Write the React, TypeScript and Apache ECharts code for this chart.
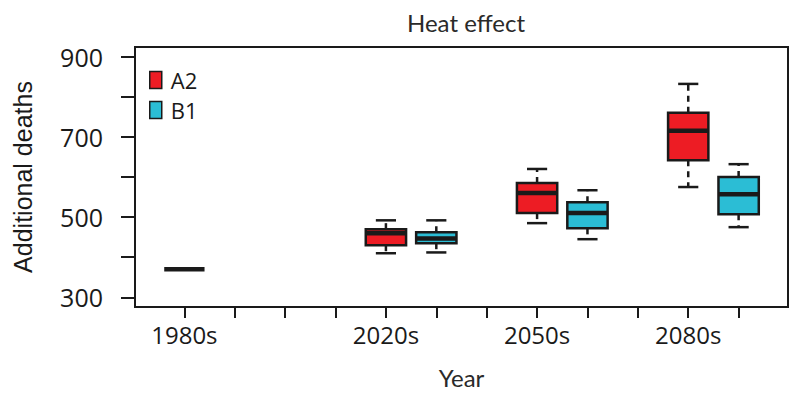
import React, { useEffect, useRef } from "react";
import * as echarts from "echarts";

// ---- data ----
const xTickPositions = [1, 2, 3, 4, 5, 6, 7, 8, 9, 10, 11, 12];
const xLabelPositions = [1, 5, 8, 11];
const xLabels = ["1980s", "2020s", "2050s", "2080s"];
const yTickValues = [300, 400, 500, 600, 700, 800, 900];
const yLabelValues = [300, 500, 700, 900];

// [position, min, q1, median, q3, max]
const baseline1980s = [[1, 370, 370, 370, 370, 370]];
const boxesA2 = [
  [5, 410, 430, 460, 470, 492],
  [8, 485, 510, 560, 585, 620],
  [11, 575, 642, 715, 760, 832],
];
const boxesB1 = [
  [6, 412, 435, 447, 462, 492],
  [9, 445, 472, 510, 537, 567],
  [12, 475, 507, 557, 600, 632],
];

const RED = "#ED1C24";
const CYAN = "#2BBDD5";
const INK = "#1a1a1a";

function makeRenderer(color: string) {
  return (params: any, api: any) => {
    const x = api.value(0);
    const vmin = api.value(1);
    const q1 = api.value(2);
    const med = api.value(3);
    const q3 = api.value(4);
    const vmax = api.value(5);
    const halfW = api.size([0.8, 0])[0] / 2;
    const capHalf = halfW / 2;
    const pMin = api.coord([x, vmin]);
    const pQ1 = api.coord([x, q1]);
    const pMed = api.coord([x, med]);
    const pQ3 = api.coord([x, q3]);
    const pMax = api.coord([x, vmax]);
    const cx = pMed[0];
    const children: any[] = [];
    const lineStyle = { stroke: INK, lineWidth: 2.5 };
    const dashStyle = { stroke: INK, lineWidth: 2.5, lineDash: [6, 5] };
    if (vmax > q3) {
      children.push({ type: "line", shape: { x1: cx, y1: pQ3[1], x2: cx, y2: pMax[1] }, style: dashStyle });
      children.push({ type: "line", shape: { x1: cx - capHalf, y1: pMax[1], x2: cx + capHalf, y2: pMax[1] }, style: lineStyle });
    }
    if (vmin < q1) {
      children.push({ type: "line", shape: { x1: cx, y1: pQ1[1], x2: cx, y2: pMin[1] }, style: dashStyle });
      children.push({ type: "line", shape: { x1: cx - capHalf, y1: pMin[1], x2: cx + capHalf, y2: pMin[1] }, style: lineStyle });
    }
    if (q3 > q1) {
      children.push({
        type: "rect",
        shape: { x: cx - halfW, y: pQ3[1], width: halfW * 2, height: pQ1[1] - pQ3[1] },
        style: { fill: color, stroke: INK, lineWidth: 2.5 },
      });
    }
    children.push({
      type: "line",
      shape: { x1: cx - halfW, y1: pMed[1], x2: cx + halfW, y2: pMed[1] },
      style: { stroke: INK, lineWidth: 4.5 },
    });
    return { type: "group", children };
  };
}

export default function App() {
  const ref = useRef<HTMLDivElement>(null);
  useEffect(() => {
    if (!ref.current) return;
    const chart = echarts.init(ref.current, undefined, { renderer: "svg" });
    const labelMap: Record<number, string> = {};
    xLabelPositions.forEach((p, i) => (labelMap[p] = xLabels[i]));
    chart.setOption({
      animation: false,
      backgroundColor: "#ffffff",
      title: {
        text: "Heat effect",
        left: 461,
        top: 5,
        textAlign: "center",
        textStyle: { fontFamily: "Lato", fontSize: 24, fontWeight: "normal", color: "#2a2a2a" },
      },
      legend: {
        data: ["A2", "B1"],
        orient: "vertical",
        left: 149,
        top: 69,
        padding: 0,
        icon: "rect",
        itemWidth: 12,
        itemHeight: 17,
        itemGap: 8,
        itemStyle: { borderColor: INK, borderWidth: 1.5 },
        textStyle: { fontFamily: "Open Sans", fontSize: 22, color: INK, padding: [0, 0, 0, 4], lineHeight: 17 },
      },
      grid: {
        left: 135,
        right: 12,
        top: 47,
        bottom: 93,
        show: true,
        borderColor: INK,
        borderWidth: 2,
        backgroundColor: "transparent",
        containLabel: false,
        outerBoundsMode: "none",
      },
      xAxis: {
        type: "value",
        min: 0.02,
        max: 12.98,
        name: "Year",
        nameLocation: "middle",
        nameGap: 58,
        nameTextStyle: { fontFamily: "Lato", fontSize: 24, color: "#2a2a2a" },
        axisLine: { show: false },
        splitLine: { show: false },
        axisTick: { show: true, length: 11, customValues: xTickPositions, lineStyle: { color: INK, width: 2 } },
        axisLabel: {
          customValues: xLabelPositions,
          formatter: (v: number) => labelMap[v] ?? "",
          margin: 15,
          fontFamily: "Open Sans",
          fontSize: 24,
          color: INK,
        },
      },
      yAxis: {
        type: "value",
        min: 276,
        max: 924,
        name: "Additional deaths",
        nameLocation: "middle",
        nameRotate: 90,
        nameGap: 100,
        nameTextStyle: { fontFamily: "Liberation Sans", fontSize: 25, color: INK },
        axisLine: { show: false },
        splitLine: { show: false },
        axisTick: { show: true, length: 14, customValues: yTickValues, lineStyle: { color: INK, width: 2 } },
        axisLabel: {
          customValues: yLabelValues,
          margin: 32,
          fontFamily: "Open Sans",
          fontSize: 25,
          color: INK,
        },
      },
      series: [
        {
          name: "1980s",
          type: "custom",
          renderItem: makeRenderer(RED),
          itemStyle: { color: INK },
          encode: { x: 0, y: [1, 2, 3, 4, 5] },
          data: baseline1980s,
        },
        {
          name: "A2",
          type: "custom",
          renderItem: makeRenderer(RED),
          itemStyle: { color: RED },
          encode: { x: 0, y: [1, 2, 3, 4, 5] },
          data: boxesA2,
        },
        {
          name: "B1",
          type: "custom",
          renderItem: makeRenderer(CYAN),
          itemStyle: { color: CYAN },
          encode: { x: 0, y: [1, 2, 3, 4, 5] },
          data: boxesB1,
        },
      ],
    });
    return () => chart.dispose();
  }, []);
  return <div ref={ref} style={{ position: "fixed", left: 0, top: 0, width: 800, height: 400 }} />;
}
